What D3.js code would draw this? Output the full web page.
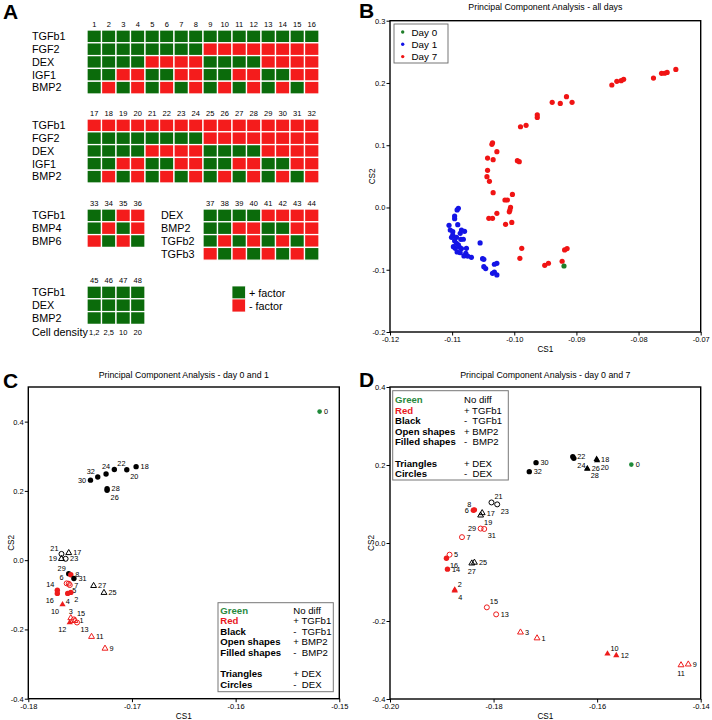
<!DOCTYPE html>
<html><head><meta charset="utf-8">
<script src="https://cdn.jsdelivr.net/npm/d3@7"></script>
<style>body{margin:0;background:#fff} svg{display:block;font-family:"Liberation Sans",Arial,sans-serif}</style>
</head><body><svg id="fig" width="712" height="720"></svg>
<script>
// ---------------- Panel A data ----------------
const grid1Cols = [1,2,3,4,5,6,7,8,9,10,11,12,13,14,15,16];
const grid1Rows = ["TGFb1","FGF2","DEX","IGF1","BMP2"];
const grid1Vals = [
 [1,1,1,1,1,1,1,1,1,1,1,1,1,1,1,1],
 [1,1,1,1,1,1,1,1,0,0,0,0,0,0,0,0],
 [1,1,1,1,0,0,0,0,1,1,1,1,0,0,0,0],
 [1,1,0,0,1,1,0,0,1,1,0,0,1,1,0,0],
 [1,0,1,0,1,0,1,0,1,0,1,0,1,0,1,0]];
const grid2Cols = [17,18,19,20,21,22,23,24,25,26,27,28,29,30,31,32];
const grid2Rows = ["TGFb1","FGF2","DEX","IGF1","BMP2"];
const grid2Vals = [
 [0,0,0,0,0,0,0,0,0,0,0,0,0,0,0,0],
 [1,1,1,1,1,1,1,1,0,0,0,0,0,0,0,0],
 [1,1,1,1,0,0,0,0,1,1,1,1,0,0,0,0],
 [1,1,0,0,1,1,0,0,1,1,0,0,1,1,0,0],
 [1,0,1,0,1,0,1,0,1,0,1,0,1,0,1,0]];
const grid3Cols = [33,34,35,36];
const grid3Rows = ["TGFb1","BMP4","BMP6"];
const grid3Vals = [[1,1,0,0],[1,0,1,0],[0,1,0,1]];
const grid4Cols = [37,38,39,40,41,42,43,44];
const grid4Rows = ["DEX","BMP2","TGFb2","TGFb3"];
const grid4Vals = [[1,1,1,1,0,0,0,0],[1,1,0,0,1,1,0,0],[1,0,1,0,1,0,1,0],[0,1,0,1,0,1,0,1]];
const grid5Cols = [45,46,47,48];
const grid5Rows = ["TGFb1","DEX","BMP2"];
const grid5Vals = [[1,1,1,1],[1,1,1,1],[1,1,1,1]];
const cellDensity = ["1,2","2,5","10","20"];
const factorLegend = ["+ factor","- factor"];

// ---------------- Panel B data (CS1, CS2) ----------------
const bDay0 = [[-0.0920,-0.094]];
const bDay1 = [
 [-0.1090,-0.0014],[-0.1092,-0.004],[-0.1096,-0.0137],[-0.1096,-0.018],[-0.1105,-0.0287],
 [-0.1103,-0.0362],[-0.1099,-0.0388],[-0.1091,-0.0276],[-0.1085,-0.0362],[-0.1080,-0.0383],
 [-0.1099,-0.0442],[-0.1093,-0.0479],[-0.1087,-0.0415],[-0.1096,-0.0533],[-0.1086,-0.0512],
 [-0.1093,-0.0576],[-0.1095,-0.0656],[-0.1088,-0.064],[-0.1077,-0.0656],[-0.1078,-0.0736],
 [-0.1081,-0.0778],[-0.1069,-0.0800],[-0.1055,-0.0570],[-0.1051,-0.0822],[-0.1049,-0.0832],
 [-0.1046,-0.0982],[-0.1049,-0.0950],[-0.1032,-0.1036],[-0.1028,-0.0897],[-0.1032,-0.0912],
 [-0.1035,-0.1057],[-0.1028,-0.1084],[-0.1082,-0.051],[-0.1101,-0.048],[-0.1090,-0.060],
 [-0.1085,-0.066],[-0.1098,-0.063],[-0.1092,-0.0715],[-0.1087,-0.0726],[-0.1075,-0.078]];
const bDay7 = [
 [-0.0740,0.2218],[-0.0754,0.217],[-0.0758,0.2156],[-0.0763,0.2154],[-0.0776,0.2079],
 [-0.0843,0.1967],[-0.0835,0.2026],[-0.0828,0.2036],[-0.0824,0.2058],
 [-0.0939,0.1689],[-0.0926,0.1672],[-0.0916,0.178],[-0.0907,0.1689],
 [-0.0963,0.1489],[-0.0963,0.1447],[-0.0981,0.132],[-0.0990,0.1297],
 [-0.1035,0.1040],[-0.1036,0.1014],[-0.1028,0.0896],[-0.1043,0.0794],[-0.1034,0.0768],
 [-0.1043,0.0597],[-0.1044,0.0495],[-0.1040,0.042],[-0.1034,0.0238],
 [-0.0995,0.0752],[-0.0992,0.0736],[-0.1015,0.012],[-0.1011,0.012],[-0.1003,0.021],
 [-0.1006,0.0002],[-0.1007,-0.004],[-0.1008,-0.007],[-0.1004,-0.024],[-0.1014,-0.027],
 [-0.1028,-0.0094],[-0.1041,-0.0174],[-0.1035,-0.0174],
 [-0.0988,-0.0656],[-0.0991,-0.0816],[-0.0951,-0.0929],[-0.0945,-0.0896],
 [-0.0923,-0.0864],[-0.0919,-0.0682],[-0.0915,-0.066]];
const bLegend = ["Day 0","Day 1","Day 7"];

// ---------------- Panel C data: [label, CS1, CS2, colour group, shape, filled, label side] ----------------
const cPoints = [
 [0,-0.1519,0.429,"g","c",1,"r"],
 [18,-0.1696,0.270,"k","c",1,"r"],
 [20,-0.1705,0.261,"k","c",1,"br"],
 [22,-0.1717,0.262,"k","c",1,"tr"],
 [24,-0.1725,0.249,"k","c",1,"t"],
 [32,-0.1733,0.240,"k","c",1,"tl"],
 [30,-0.1740,0.231,"k","c",1,"l"],
 [28,-0.1724,0.206,"k","c",1,"r"],
 [26,-0.1724,0.202,"k","c",1,"br"],
 [21,-0.1768,0.018,"k","c",0,"tl"],
 [17,-0.1761,0.021,"k","t",0,"r"],
 [19,-0.1768,0.004,"k","t",0,"l"],
 [23,-0.1764,0.004,"k","c",0,"r"],
 [29,-0.1761,-0.039,"k","c",1,"tl"],
 [8,-0.1759,-0.042,"r","c",1,"r"],
 [31,-0.1756,-0.053,"k","c",1,"r"],
 [6,-0.1763,-0.067,"r","c",0,"tl"],
 [5,-0.1761,-0.068,"r","c",0,"br"],
 [7,-0.1760,-0.072,"r","c",0,"r"],
 [14,-0.1772,-0.087,"r","c",1,"tl"],
 [16,-0.1772,-0.096,"r","c",1,"bl"],
 [2,-0.1759,-0.093,"r","c",1,"br"],
 [4,-0.1762,-0.096,"r","c",1,"b"],
 [10,-0.1767,-0.128,"r","t",1,"bl"],
 [3,-0.1759,-0.167,"r","t",0,"t"],
 [15,-0.1756,-0.171,"r","c",0,"tr"],
 [1,-0.1755,-0.175,"r","t",0,"r"],
 [12,-0.1760,-0.180,"r","t",1,"bl"],
 [13,-0.1753,-0.180,"r","c",0,"br"],
 [11,-0.1739,-0.221,"r","t",0,"r"],
 [9,-0.1726,-0.255,"r","t",0,"r"],
 [27,-0.1737,-0.074,"k","t",0,"r"],
 [25,-0.1727,-0.094,"k","t",0,"r"]];

// ---------------- Panel D data ----------------
const dPoints = [
 [0,-0.1534,0.201,"g","c",1,"r"],
 [18,-0.1601,0.215,"k","t",1,"r"],
 [20,-0.1600,0.212,"k","t",1,"br"],
 [26,-0.1619,0.191,"k","t",1,"r"],
 [28,-0.1619,0.190,"k","t",1,"br"],
 [22,-0.1647,0.221,"k","c",1,"r"],
 [24,-0.1645,0.217,"k","c",1,"br"],
 [30,-0.1718,0.206,"k","c",1,"r"],
 [32,-0.1731,0.183,"k","c",1,"r"],
 [21,-0.1804,0.104,"k","c",0,"tr"],
 [23,-0.1793,0.099,"k","c",0,"br"],
 [17,-0.1822,0.077,"k","t",0,"r"],
 [19,-0.1825,0.071,"k","t",0,"br"],
 [8,-0.1837,0.085,"r","c",1,"tl"],
 [6,-0.1839,0.084,"r","c",1,"l"],
 [29,-0.1825,0.037,"r","c",0,"l"],
 [31,-0.1818,0.036,"r","c",0,"br"],
 [7,-0.1861,0.015,"r","c",0,"r"],
 [5,-0.1885,-0.030,"r","c",0,"r"],
 [16,-0.1891,-0.039,"r","c",1,"br"],
 [14,-0.1889,-0.067,"r","c",1,"r"],
 [25,-0.1837,-0.050,"k","t",0,"r"],
 [27,-0.1842,-0.052,"k","t",0,"b"],
 [2,-0.1875,-0.120,"r","t",1,"tr"],
 [4,-0.1875,-0.122,"r","t",1,"br"],
 [15,-0.1813,-0.165,"r","c",0,"tr"],
 [13,-0.1795,-0.183,"r","c",0,"r"],
 [3,-0.1748,-0.229,"r","t",0,"r"],
 [1,-0.1716,-0.244,"r","t",0,"r"],
 [10,-0.1580,-0.284,"r","t",1,"tr"],
 [12,-0.1563,-0.288,"r","t",1,"r"],
 [11,-0.1438,-0.313,"r","t",0,"b"],
 [9,-0.1424,-0.311,"r","t",0,"r"]];

const keyLeft = ["Green","Red","Black","Open shapes","Filled shapes","","Triangles","Circles"];
const keyRight = ["No diff","+ TGFb1","-  TGFb1","+ BMP2","-  BMP2","","+ DEX","-  DEX"];

// ---------------- drawing ----------------
const svg = d3.select("#fig");
const HG = "#0b6b0b", HR = "#f41c1c";
const COL = {g:"#1f8a3a", r:"#ee1c1c", k:"#000"};
const CW = 14.5, CH = 12.8;

function drawGrid(x0, y0, labelX, cols, rows, vals){
  const x = d3.scaleBand().domain(cols).range([x0, x0 + cols.length*CW]);
  const y = d3.scaleBand().domain(rows).range([y0, y0 + rows.length*CH]);
  const g = svg.append("g");
  rows.forEach((r,i)=>cols.forEach((c,j)=>{
    g.append("rect").attr("x",x(c)).attr("y",y(r)).attr("width",x.bandwidth()).attr("height",y.bandwidth())
     .attr("fill", vals[i][j] ? HG : HR).attr("stroke","#fff").attr("stroke-width",1.3);
  }));
  g.selectAll(null).data(cols).join("text").attr("x",c=>x(c)+x.bandwidth()/2).attr("y",y0-2.8)
   .attr("text-anchor","middle").attr("font-size",7.5).text(c=>c);
  g.selectAll(null).data(rows).join("text").attr("x",labelX).attr("y",r=>y(r)+y.bandwidth()/2+3.8)
   .attr("font-size",10.8).text(r=>r);
  return {x, y};
}

// Panel letters
[["A",3,19],["B",359,18],["C",3,388],["D",359,387]].forEach(([t,x,y])=>
  svg.append("text").attr("x",x).attr("y",y).attr("font-size",21).attr("font-weight","bold").text(t));

drawGrid(87,30,32,grid1Cols,grid1Rows,grid1Vals);
drawGrid(87,119,32,grid2Cols,grid2Rows,grid2Vals);
drawGrid(87,209,32,grid3Cols,grid3Rows,grid3Vals);
drawGrid(203,209,161,grid4Cols,grid4Rows,grid4Vals);
const g5 = drawGrid(87,286,32,grid5Cols,grid5Rows,grid5Vals);
svg.append("text").attr("x",32).attr("y",335.5).attr("font-size",10.8).text("Cell density");
svg.selectAll(null).data(cellDensity).join("text")
  .attr("x",(d,i)=>g5.x(grid5Cols[i])+CW/2).attr("y",335).attr("text-anchor","middle").attr("font-size",7.5).text(d=>d);
factorLegend.forEach((t,i)=>{
  svg.append("rect").attr("x",232).attr("y",286+i*13).attr("width",13.5).attr("height",13)
    .attr("fill", i===0?HG:HR).attr("stroke","#fff").attr("stroke-width",0.8);
  svg.append("text").attr("x",249).attr("y",296.5+i*13).attr("font-size",10.8).text(t);
});

const fmt = f => d => d3.format(f)(d).replace("\u2212","-");

function frame(cfg){
  const x = d3.scaleLinear().domain(cfg.xDom).range([cfg.left, cfg.right]);
  const y = d3.scaleLinear().domain(cfg.yDom).range([cfg.bottom, cfg.top]);
  const g = svg.append("g");
  const ax = g.append("g").attr("transform",`translate(0,${cfg.bottom})`)
    .call(d3.axisBottom(x).tickValues(cfg.xTicks).tickSize(3.5).tickPadding(1.5).tickFormat(fmt(cfg.xFmt)));
  const ay = g.append("g").attr("transform",`translate(${cfg.left},0)`)
    .call(d3.axisLeft(y).tickValues(cfg.yTicks).tickSize(3.5).tickPadding(1.2).tickFormat(fmt(cfg.yFmt)));
  [ax,ay].forEach(a=>{
    a.select(".domain").remove();
    a.selectAll("text").attr("font-size",7.5).attr("font-family",null).attr("fill","#000");
    a.selectAll("line").attr("stroke","#000").attr("stroke-width",1);
  });
  g.append("rect").attr("x",cfg.left).attr("y",cfg.top).attr("width",cfg.right-cfg.left).attr("height",cfg.bottom-cfg.top)
    .attr("fill","none").attr("stroke","#000").attr("stroke-width",1.4);
  g.append("text").attr("x",(cfg.left+cfg.right)/2).attr("y",cfg.titleY).attr("text-anchor","middle")
    .attr("font-size",8.8).text(cfg.title);
  g.append("text").attr("x",(cfg.left+cfg.right)/2).attr("y",cfg.bottom+20).attr("text-anchor","middle")
    .attr("font-size",8.2).text("CS1");
  g.append("text").attr("transform",`translate(${cfg.yLabX},${(cfg.top+cfg.bottom)/2}) rotate(-90)`)
    .attr("text-anchor","middle").attr("font-size",8.2).text("CS2");
  return {x,y,g};
}

// Panel B
const B = frame({left:390,right:700.7,top:20.7,bottom:332,xDom:[-0.12,-0.07],yDom:[-0.2,0.3],
  xTicks:[-0.12,-0.11,-0.10,-0.09,-0.08,-0.07],yTicks:[-0.2,-0.1,0,0.1,0.2,0.3],xFmt:".2f",yFmt:".1f",
  title:"Principal Component Analysis - all days",titleY:10,yLabX:375});
const bSeries = [[bDay7,"#f01414"],[bDay1,"#1414e6"],[bDay0,"#1e7d28"]];
bSeries.forEach(([pts,c])=>{
  B.g.selectAll(null).data(pts).join("circle").attr("cx",d=>B.x(d[0])).attr("cy",d=>B.y(d[1]))
    .attr("r",2.6).attr("fill",c);
});
B.g.append("rect").attr("x",394).attr("y",24).attr("width",54).attr("height",39)
  .attr("fill","#fff").attr("stroke","#666").attr("stroke-width",0.9);
bLegend.forEach((t,i)=>{
  const c = [bSeries[2][1],bSeries[1][1],bSeries[0][1]][i];
  B.g.append("circle").attr("cx",402.7).attr("cy",32+i*12.3).attr("r",1.7).attr("fill",c);
  B.g.append("text").attr("x",411.5).attr("y",35.5+i*12.3).attr("font-size",9.8).text(t);
});

const LBL = {r:[4.5,2.6,"start"], l:[-4.5,2.6,"end"], tr:[3,-3,"start"], tl:[-3,-3,"end"],
  br:[3.5,9.5,"start"], bl:[-3.5,9.5,"end"], t:[0,-4.5,"middle"], b:[0,11,"middle"]};

function drawPoints(P, pts){
  pts.forEach(([lab,cx,cy,col,shape,filled,side])=>{
    const px = P.x(cx), py = P.y(cy), c = COL[col];
    if(shape==="c"){
      P.g.append("circle").attr("cx",px).attr("cy",py).attr("r", filled ? (col==="g"?2.3:2.7) : 2.5)
        .attr("fill", filled ? c : "none").attr("stroke", filled ? "none" : c).attr("stroke-width",1);
    } else {
      P.g.append("path").attr("d", d3.symbol(d3.symbolTriangle, filled ? 17 : 15)())
        .attr("transform",`translate(${px},${py})`)
        .attr("fill", filled ? c : "none").attr("stroke", filled ? "none" : c).attr("stroke-width",1);
    }
    const [dx,dy,anc] = LBL[side];
    P.g.append("text").attr("x",px+dx).attr("y",py+dy).attr("text-anchor",anc).attr("font-size",7.3).text(lab);
  });
}

function drawKey(P, x0, y0, w, h, lx, rx, by){
  P.g.append("rect").attr("x",x0).attr("y",y0).attr("width",w).attr("height",h)
    .attr("fill","#fff").attr("stroke","#777").attr("stroke-width",1);
  keyLeft.forEach((t,i)=>{
    if(!t) return;
    const col = i===0 ? "#2a8a3e" : (i===1 ? "#e8181e" : "#000");
    P.g.append("text").attr("x",lx).attr("y",by+i*10.6).attr("font-size",9.6).attr("font-weight","bold")
      .attr("fill",col).text(t);
    P.g.append("text").attr("x",rx).attr("y",by+i*10.6).attr("font-size",9.6).style("white-space","pre").text(keyRight[i]);
  });
}

// Panel C
const C = frame({left:28.3,right:339.3,top:387,bottom:698.7,xDom:[-0.18,-0.15],yDom:[-0.4,0.5],
  xTicks:[-0.18,-0.17,-0.16,-0.15],yTicks:[-0.4,-0.2,0,0.2,0.4],xFmt:".2f",yFmt:".1f",
  title:"Principal Component Analysis - day 0 and 1",titleY:378,yLabX:14});
drawPoints(C, cPoints);
drawKey(C, 218, 602.7, 115.3, 89, 220.3, 293.3, 613.5);

// Panel D
const D = frame({left:390,right:700.7,top:387,bottom:699,xDom:[-0.20,-0.14],yDom:[-0.4,0.4],
  xTicks:[-0.20,-0.18,-0.16,-0.14],yTicks:[-0.4,-0.2,0,0.2,0.4],xFmt:".2f",yFmt:".1f",
  title:"Principal Component Analysis - day 0 and 7",titleY:378,yLabX:374});
drawPoints(D, dPoints);
drawKey(D, 392.7, 390.7, 115.6, 89.3, 395, 464, 403);
</script></body></html>
